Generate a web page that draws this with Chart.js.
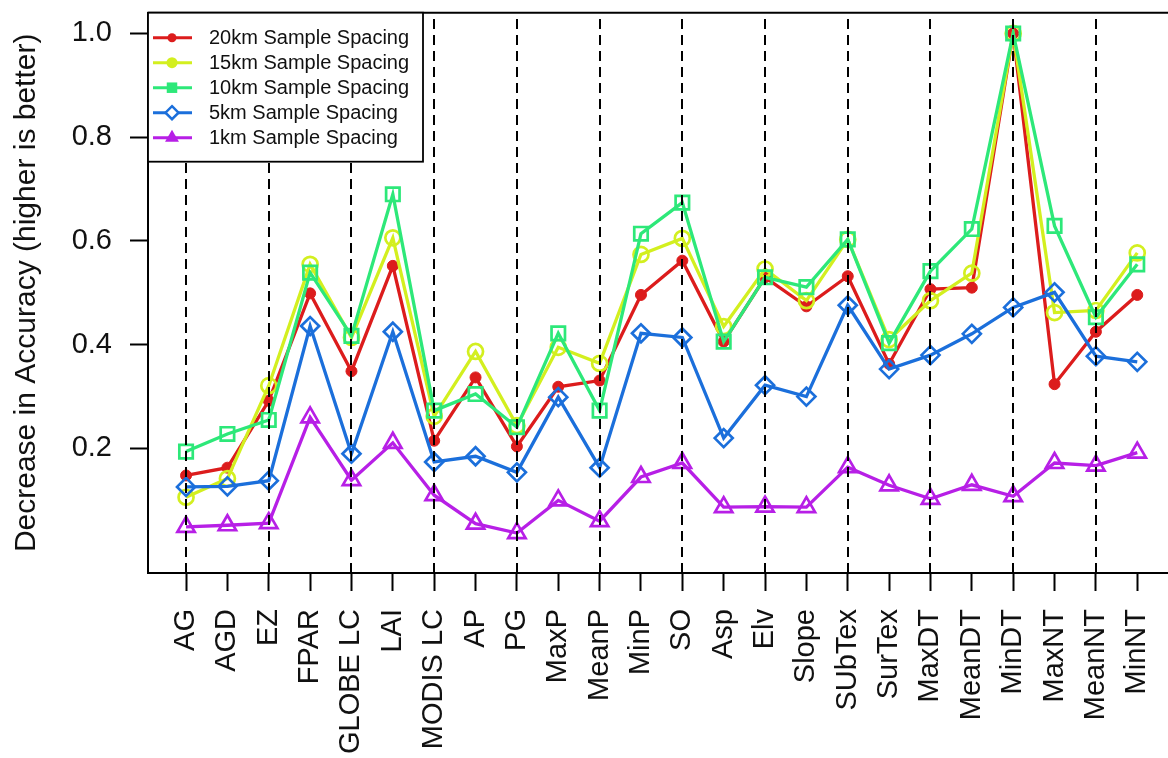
<!DOCTYPE html>
<html>
<head>
<meta charset="utf-8">
<script src="https://cdn.jsdelivr.net/npm/chart.js@4/dist/chart.umd.min.js"></script>
<style>
  html, body { margin: 0; padding: 0; background: #fff; overflow: hidden; }
  #wrap { width: 1188px; height: 758px; }
</style>
</head>
<body>
<div id="wrap"><canvas id="c" width="1188" height="758"></canvas></div>
<script>
// Predictor variables (x axis)
const categories = ["AG", "AGD", "EZ", "FPAR", "GLOBE LC", "LAI", "MODIS LC", "AP", "PG", "MaxP",
  "MeanP", "MinP", "SO", "Asp", "Elv", "Slope", "SUbTex", "SurTex", "MaxDT", "MeanDT",
  "MinDT", "MaxNT", "MeanNT", "MinNT"];

// Decrease in accuracy per sample spacing
const spacing20km = [0.148, 0.163, 0.292, 0.499, 0.349, 0.552, 0.215, 0.337, 0.204, 0.319,
  0.331, 0.496, 0.562, 0.406, 0.530, 0.474, 0.532, 0.363, 0.507, 0.510,
  1.000, 0.324, 0.425, 0.496];
const spacing15km = [0.106, 0.142, 0.321, 0.555, 0.414, 0.606, 0.262, 0.387, 0.244, 0.395,
  0.364, 0.574, 0.605, 0.435, 0.546, 0.485, 0.603, 0.410, 0.485, 0.538,
  1.000, 0.462, 0.466, 0.577];
const spacing10km = [0.194, 0.228, 0.255, 0.539, 0.417, 0.690, 0.273, 0.305, 0.241, 0.422,
  0.273, 0.614, 0.674, 0.406, 0.530, 0.511, 0.603, 0.403, 0.542, 0.623,
  1.000, 0.629, 0.453, 0.555];
const spacing5km = [0.126, 0.127, 0.138, 0.436, 0.190, 0.425, 0.174, 0.185, 0.154, 0.299,
  0.163, 0.422, 0.414, 0.220, 0.322, 0.300, 0.476, 0.353, 0.380, 0.421,
  0.472, 0.501, 0.378, 0.367];
const spacing1km = [0.049, 0.052, 0.056, 0.260, 0.139, 0.211, 0.110, 0.055, 0.037, 0.100,
  0.060, 0.145, 0.172, 0.087, 0.088, 0.087, 0.164, 0.129, 0.103, 0.130,
  0.108, 0.172, 0.167, 0.192];

const seriesNames = ["20km Sample Spacing", "15km Sample Spacing", "10km Sample Spacing",
  "5km Sample Spacing", "1km Sample Spacing"];
const yTickValues = [0.2, 0.4, 0.6, 0.8, 1.0];
const dashedCategories = ["AG", "EZ", "GLOBE LC", "MODIS LC", "PG", "MeanP", "SO", "Elv",
  "SUbTex", "MaxDT", "MinDT", "MeanNT"];
const yTitle = "Decrease in Accuracy (higher is better)";

// Styles
const FONT = "'Liberation Sans', Arial, Helvetica, sans-serif";
const INK = "#000";
const styles = [
  { color: "#dc1c1c", point: "circle",   radius: 5.5, fill: true,  legendR: 4.5 },
  { color: "#d3ef1f", point: "circle",   radius: 7.5, fill: false, legendR: 5.5 },
  { color: "#2de879", point: "rect",     radius: 9.5, fill: false, legendR: 7 },
  { color: "#1b6fdb", point: "rectRot",  radius: 9,   fill: false, legendR: 6.5 },
  { color: "#b71fe6", point: "triangle", radius: 10,  fill: false, legendR: 8 }
];
const seriesValues = [spacing20km, spacing15km, spacing10km, spacing5km, spacing1km];

const datasets = seriesValues.map((vals, k) => ({
  label: seriesNames[k],
  data: vals.map((v, i) => ({ x: i, y: v })),
  borderColor: styles[k].color,
  borderWidth: 3.3,
  tension: 0,
  pointStyle: styles[k].point,
  pointRadius: styles[k].radius,
  pointHoverRadius: styles[k].radius,
  pointBorderWidth: styles[k].fill ? 1 : 2.7,
  pointBorderColor: styles[k].color,
  pointBackgroundColor: styles[k].fill ? styles[k].color : "rgba(0,0,0,0)",
  order: 5 - k,
  clip: false
}));

// Dashed vertical guides at selected categories
const guidePlugin = {
  id: "guides",
  afterDatasetsDraw(chart) {
    const { ctx, chartArea, scales } = chart;
    ctx.save();
    ctx.strokeStyle = INK;
    ctx.lineWidth = 2;
    ctx.setLineDash([10, 6]);
    dashedCategories.forEach(name => {
      const x = Math.round(scales.x.getPixelForValue(categories.indexOf(name)));
      ctx.beginPath();
      ctx.moveTo(x, chartArea.bottom);
      ctx.lineTo(x, chartArea.top);
      ctx.stroke();
    });
    ctx.restore();
  }
};

// Legend marker glyphs
function drawMarker(ctx, style, x, y) {
  const r = style.legendR;
  ctx.fillStyle = style.color;
  ctx.strokeStyle = style.color;
  ctx.lineWidth = 2.5;
  ctx.setLineDash([]);
  ctx.beginPath();
  if (style.point === "circle") {
    ctx.arc(x, y, r, 0, Math.PI * 2);
    ctx.fill();
  } else if (style.point === "rect") {
    ctx.rect(x - r * 0.75, y - r * 0.75, r * 1.5, r * 1.5);
    ctx.fill();
  } else if (style.point === "rectRot") {
    ctx.moveTo(x, y - r); ctx.lineTo(x + r, y); ctx.lineTo(x, y + r); ctx.lineTo(x - r, y);
    ctx.closePath();
    ctx.fillStyle = "#fff";
    ctx.fill();
    ctx.stroke();
  } else if (style.point === "triangle") {
    ctx.moveTo(x, y - r);
    ctx.lineTo(x + r * 0.87, y + r * 0.5);
    ctx.lineTo(x - r * 0.87, y + r * 0.5);
    ctx.closePath();
    ctx.fill();
  }
}

// Top edge of the plot frame, plus the boxed legend
const framePlugin = {
  id: "frame",
  afterDraw(chart) {
    const { ctx, chartArea } = chart;
    ctx.save();
    ctx.strokeStyle = INK;
    ctx.lineWidth = 2;
    ctx.beginPath();
    ctx.moveTo(chartArea.left, chartArea.top);
    ctx.lineTo(chartArea.right + 2, chartArea.top);
    ctx.stroke();

    const bx = chartArea.left, by = chartArea.top, bw = 275, bh = 149;
    ctx.fillStyle = "#fff";
    ctx.fillRect(bx, by, bw, bh);
    ctx.lineWidth = 1.8;
    ctx.strokeRect(bx, by, bw, bh);

    ctx.font = "20px " + FONT;
    ctx.textBaseline = "middle";
    ctx.textAlign = "left";
    seriesNames.forEach((name, k) => {
      const y = by + 25 + k * 25;
      ctx.strokeStyle = styles[k].color;
      ctx.lineWidth = 3;
      ctx.setLineDash([]);
      ctx.beginPath();
      ctx.moveTo(bx + 5, y);
      ctx.lineTo(bx + 44, y);
      ctx.stroke();
      drawMarker(ctx, styles[k], bx + 24, y);
      ctx.fillStyle = "#111";
      ctx.fillText(name, bx + 61, y + 1);
    });
    ctx.restore();
  }
};

new Chart(document.getElementById("c"), {
  type: "line",
  data: { datasets },
  options: {
    responsive: false,
    animation: false,
    devicePixelRatio: 1,
    layout: { padding: { top: 10, right: 1, left: 0, bottom: 0 } },
    plugins: { legend: { display: false }, tooltip: { enabled: false } },
    scales: {
      x: {
        type: "linear",
        min: -0.92,
        max: categories.length - 1 + 0.92,
        afterBuildTicks(scale) { scale.ticks = categories.map((c, i) => ({ value: i })); },
        afterFit(scale) { scale.height = 185; scale.paddingLeft = 0; scale.paddingRight = 0; },
        ticks: {
          autoSkip: false,
          maxRotation: 90,
          minRotation: 90,
          padding: 18,
          color: "#111",
          font: { family: FONT, size: 29 },
          callback: (v) => categories[v]
        },
        grid: { display: true, drawOnChartArea: false, tickLength: 18, tickWidth: 2, tickColor: INK },
        border: { display: true, color: INK, width: 2 }
      },
      y: {
        type: "linear",
        min: -0.04,
        max: 1.04,
        afterBuildTicks(scale) { scale.ticks = yTickValues.map(v => ({ value: v })); },
        afterFit(scale) { scale.width = 148; scale.paddingTop = 0; scale.paddingBottom = 0; },
        ticks: {
          padding: 18,
          color: "#111",
          font: { family: FONT, size: 29 },
          callback: (v) => Number(v).toFixed(1)
        },
        grid: { display: true, drawOnChartArea: false, tickLength: 18, tickWidth: 2, tickColor: INK },
        border: { display: true, color: INK, width: 2 },
        title: {
          display: true,
          text: yTitle,
          color: "#111",
          font: { family: FONT, size: 30 },
          padding: { top: 9, bottom: 0 }
        }
      }
    }
  },
  plugins: [guidePlugin, framePlugin]
});
</script>
</body>
</html>
